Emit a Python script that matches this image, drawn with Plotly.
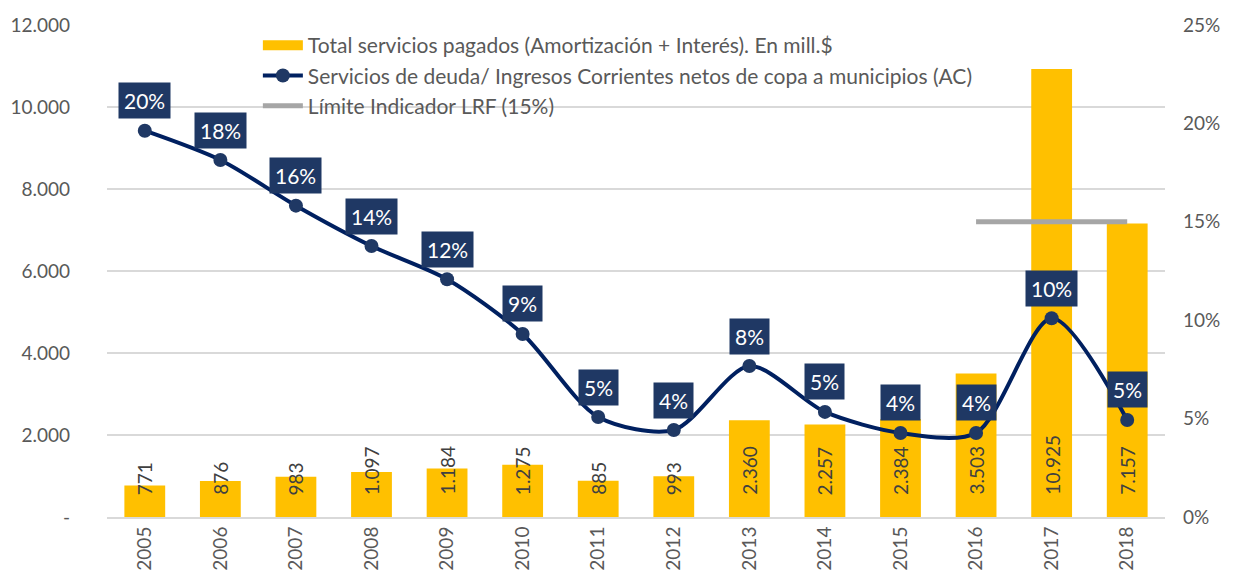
import plotly.graph_objects as go

years = ["2005", "2006", "2007", "2008", "2009", "2010", "2011", "2012",
         "2013", "2014", "2015", "2016", "2017", "2018"]
servicios = [771, 876, 983, 1097, 1184, 1275, 885, 993, 2360, 2257, 2384, 3503, 10925, 7157]
servicios_txt = ["771", "876", "983", "1.097", "1.184", "1.275", "885", "993",
                 "2.360", "2.257", "2.384", "3.503", "10.925", "7.157"]
ratio = [0.1963, 0.1814, 0.1582, 0.1377, 0.1208, 0.0930, 0.0508, 0.0442,
         0.0767, 0.0534, 0.0427, 0.0427, 0.1010, 0.0493]
limite_years = ["2016", "2017", "2018"]
limite = [0.15, 0.15, 0.15]
left_ticks = [0, 2000, 4000, 6000, 8000, 10000, 12000]
left_ticktext = ["-", "2.000", "4.000", "6.000", "8.000", "10.000", "12.000"]

FONT = "Lato"
GRAY = "#595959"
BAR_NAME = "Total servicios pagados (Amortización + Interés). En mill.$"

fig = go.Figure()
fig.add_trace(go.Bar(
    x=years, y=servicios, name=BAR_NAME, showlegend=False,
    marker=dict(color="#FFC000", line=dict(width=0)), yaxis="y",
))
# legend entry for the bars (wide rectangle swatch)
fig.add_trace(go.Scatter(
    x=[None], y=[None], name=BAR_NAME, mode="lines",
    line=dict(color="#FFC000", width=12), yaxis="y",
))
fig.add_trace(go.Scatter(
    x=years, y=ratio, name="Servicios de deuda/ Ingresos Corrientes netos de copa a municipios (AC)",
    mode="lines+markers", line=dict(color="#002060", width=4, shape="spline", smoothing=0.8),
    marker=dict(color="#1F3864", size=14), yaxis="y2",
))
fig.add_trace(go.Scatter(
    x=limite_years, y=limite, name="Límite Indicador LRF (15%)",
    mode="lines", line=dict(color="#A6A6A6", width=5), yaxis="y2",
))

annotations = []
for i, (v, t) in enumerate(zip(servicios, servicios_txt)):
    annotations.append(dict(
        x=i, y=0, xref="x", yref="y", text=t, textangle=-90, showarrow=False,
        yanchor="bottom", yshift=20, font=dict(family=FONT, size=19, color="#404040"),
    ))
for i, r in enumerate(ratio):
    annotations.append(dict(
        x=i, y=r, xref="x", yref="y2", text=f"{r:.0%}", showarrow=False,
        yshift=30, bgcolor="#1F3864", borderpad=5,
        font=dict(family=FONT, size=21, color="white"),
    ))

fig.update_layout(
    width=1225, height=569,
    margin=dict(l=99, r=68, t=17, b=60),
    paper_bgcolor="white", plot_bgcolor="white",
    font=dict(family=FONT, size=19, color=GRAY),
    bargap=0.46,
    showlegend=True,
    legend=dict(x=0.1426, y=1.0, xanchor="left", yanchor="top",
                bgcolor="rgba(0,0,0,0)", font=dict(family=FONT, size=21, color=GRAY),
                tracegroupgap=0, itemwidth=40),
    xaxis=dict(type="category", categoryorder="array", categoryarray=years,
               range=[-0.5, len(years) - 0.5], tickangle=-90, showgrid=False, showline=True,
               linecolor="#D9D9D9", linewidth=2, ticks="", automargin=False,
               tickfont=dict(family=FONT, size=19, color=GRAY)),
    yaxis=dict(range=[0, 12000], tickvals=left_ticks, ticktext=left_ticktext,
               showgrid=True, gridcolor="#D9D9D9", gridwidth=2, zeroline=False,
               automargin=False, ticklabelstandoff=36,
               tickfont=dict(family=FONT, size=19, color=GRAY)),
    yaxis2=dict(range=[0, 0.25], tickvals=[0, 0.05, 0.10, 0.15, 0.20, 0.25],
                tickformat=".0%", overlaying="y", side="right", showgrid=False,
                zeroline=False, automargin=False, ticklabelstandoff=17,
                tickfont=dict(family=FONT, size=19, color=GRAY)),
    annotations=annotations,
)

fig.write_html("out.html")
